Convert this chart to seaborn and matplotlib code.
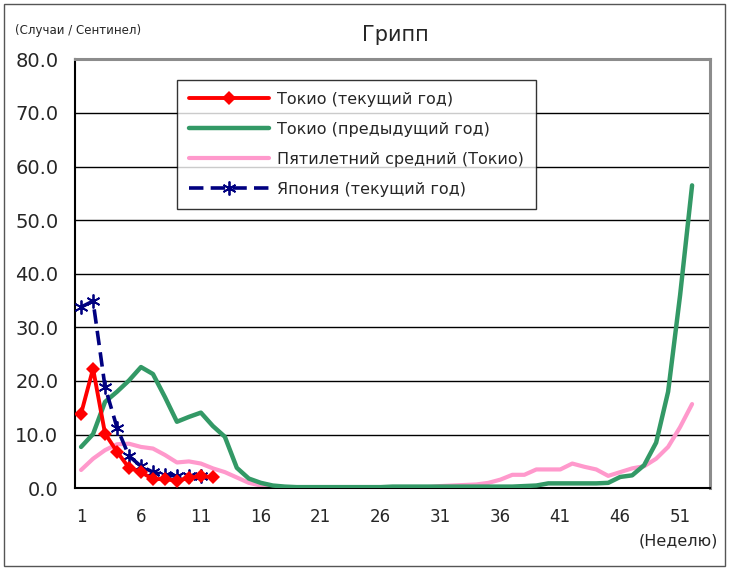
import numpy as np
import pandas as pd
import matplotlib
matplotlib.use("Agg")
import matplotlib.pyplot as plt
import seaborn as sns
from matplotlib.patches import Rectangle

sns.set_style("white")
plt.rcParams['font.family'] = ['DejaVu Sans']

# weekly influenza reports per sentinel site
weeks = list(range(1, 53))

tokyo_current = [13.9, 22.3, 10.2, 6.8, 3.8, 3.0, 1.7, 1.7, 1.4, 1.9, 2.3, 2.0]

japan_current = [33.8, 34.9, 18.9, 11.3, 6.0, 4.1, 3.0, 2.4, 2.3, 2.2, 2.2]

tokyo_previous = [7.7, 10.1, 16.1, 18.0, 20.1, 22.6, 21.3, 17.0, 12.4, 13.3,
                  14.1, 11.6, 9.6, 3.8, 1.8, 1.0, 0.5, 0.3, 0.2, 0.2,
                  0.2, 0.2, 0.2, 0.2, 0.2, 0.2, 0.3, 0.3, 0.3, 0.3,
                  0.3, 0.3, 0.3, 0.3, 0.3, 0.3, 0.3, 0.4, 0.5, 0.9,
                  0.9, 0.9, 0.9, 0.9, 1.0, 2.1, 2.4, 4.3, 8.5, 18.0,
                  36.0, 56.5]

five_year_avg = [3.4, 5.5, 7.1, 8.2, 8.3, 7.7, 7.4, 6.2, 4.8, 5.0,
                 4.6, 3.7, 3.0, 2.0, 1.0, 0.5, 0.3, 0.2, 0.2, 0.2,
                 0.2, 0.2, 0.2, 0.2, 0.2, 0.2, 0.2, 0.2, 0.2, 0.2,
                 0.4, 0.5, 0.6, 0.7, 1.0, 1.6, 2.5, 2.5, 3.5, 3.5,
                 3.5, 4.6, 4.0, 3.5, 2.3, 3.0, 3.7, 4.1, 5.5, 7.7,
                 11.4, 15.7]

x_labels = [1, 6, 11, 16, 21, 26, 31, 36, 41, 46, 51]
y_ticks = [0, 10, 20, 30, 40, 50, 60, 70, 80]

fig = plt.figure(figsize=(7.29, 5.71), dpi=100)
ax = fig.add_axes([0.103, 0.145, 0.871, 0.751])

sns.lineplot(x=weeks[:len(tokyo_current)], y=tokyo_current, ax=ax,
             color='#FF0000', linewidth=2.8, marker='D', markersize=7,
             markeredgewidth=0, label='Токио (текущий год)', zorder=5)
sns.lineplot(x=weeks, y=tokyo_previous, ax=ax, color='#339966',
             linewidth=3.2, label='Токио (предыдущий год)', zorder=3)
sns.lineplot(x=weeks, y=five_year_avg, ax=ax, color='#FF99CC',
             linewidth=3.0, label='Пятилетний средний (Токио)', zorder=2)
sns.lineplot(x=weeks[:len(japan_current)], y=japan_current, ax=ax,
             color='#000080', linewidth=2.6, linestyle=(0, (4, 2)),
             marker=(6, 2, 0), markersize=10, markeredgewidth=1.3,
             markeredgecolor='#000080', label='Япония (текущий год)',
             zorder=4)

ax.set_xlim(0.5, 53.5)
ax.set_ylim(0, 80)
ax.set_yticks(y_ticks)
ax.set_yticklabels([f"{v:.1f}" for v in y_ticks], fontsize=14)
ax.set_xticks(x_labels)
ax.set_xticklabels([str(v) for v in x_labels], fontsize=12)
ax.set_xticks([v + 4.5 for v in x_labels[:-1]] + [0.5], minor=True)
ax.tick_params(axis='x', which='major', length=0, pad=14)
ax.tick_params(axis='x', which='minor', length=4, width=1, color='black',
               direction='in')
ax.tick_params(axis='y', length=0, pad=12)
ax.grid(axis='y', color='black', linewidth=1)
ax.set_axisbelow(True)
ax.set_xlabel('')
ax.set_ylabel('')

for side in ['left', 'bottom']:
    ax.spines[side].set_color('black')
    ax.spines[side].set_linewidth(1.5)
for side in ['top', 'right']:
    ax.spines[side].set_color('#8c8c8c')
    ax.spines[side].set_linewidth(2.2)

leg = ax.legend(loc='upper left', bbox_to_anchor=(0.161, 0.953),
                fontsize=11.5, frameon=True, fancybox=False, handlelength=5.0,
                borderpad=0.75, labelspacing=0.95, handletextpad=0.5,
                borderaxespad=0)
leg.get_frame().set_edgecolor('black')
leg.get_frame().set_linewidth(1)

fig.text(0.542, 0.922, 'Грипп', ha='center', va='bottom', fontsize=15)
fig.text(0.02, 0.935, '(Случаи / Сентинел)', ha='left', va='bottom',
         fontsize=8.5)
fig.text(0.985, 0.04, '(Неделю)', ha='right', va='bottom', fontsize=11.5)

fig.patches.append(Rectangle((0.005, 0.008), 0.99, 0.985,
                             transform=fig.transFigure, fill=False,
                             edgecolor='#555555', linewidth=1))

fig.savefig('out.png', dpi=100)
